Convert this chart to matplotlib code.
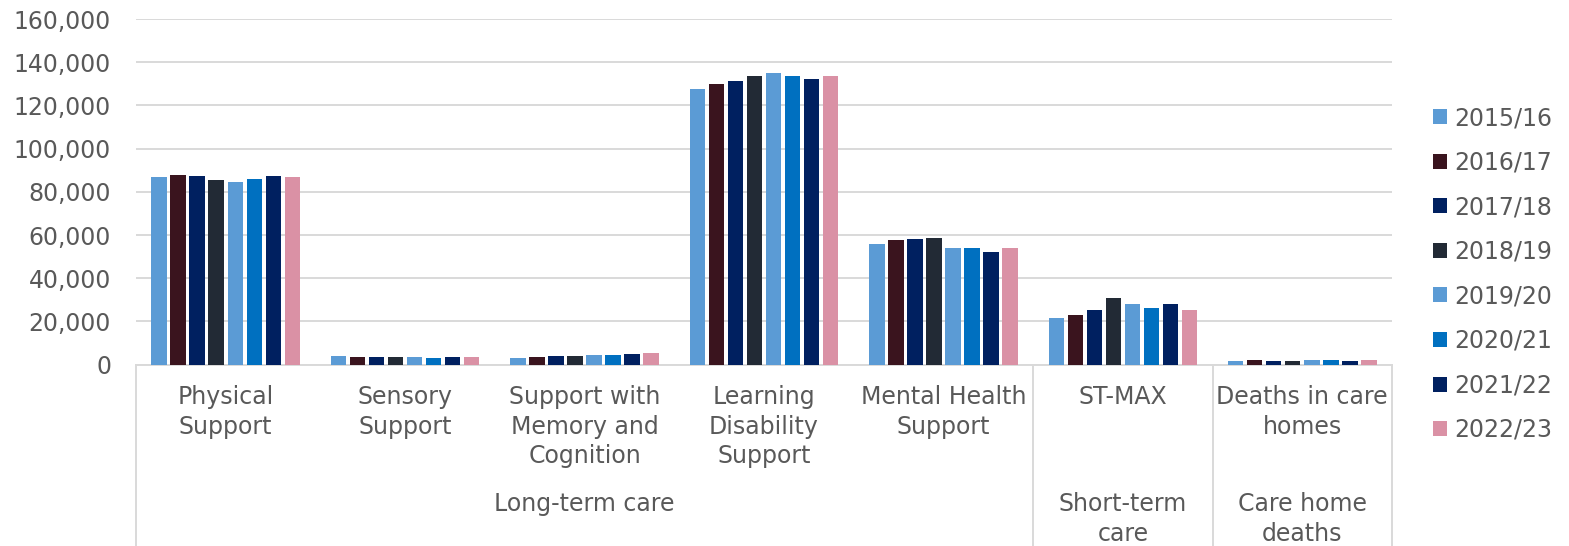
import numpy as np
import matplotlib
matplotlib.use("Agg")
import matplotlib.pyplot as plt
from matplotlib.patches import Patch
from matplotlib.transforms import blended_transform_factory

categories = [
    "Physical\nSupport",
    "Sensory\nSupport",
    "Support with\nMemory and\nCognition",
    "Learning\nDisability\nSupport",
    "Mental Health\nSupport",
    "ST-MAX",
    "Deaths in care\nhomes",
]
groups = ["Long-term care", "Short-term\ncare", "Care home\ndeaths"]
group_spans = [(0, 5), (5, 6), (6, 7)]

years = ["2015/16", "2016/17", "2017/18", "2018/19",
         "2019/20", "2020/21", "2021/22", "2022/23"]
colors = ["#5B9BD5", "#3A141E", "#002060", "#222A35",
          "#5B9BD5", "#0070C0", "#002060", "#DA91A5"]

# one list per year, ordered like categories
v2015 = [86800, 4000, 3200, 127500, 56000, 21500, 1700]
v2016 = [87700, 3600, 3700, 130100, 57500, 22900, 2200]
v2017 = [87300, 3600, 4000, 131500, 58000, 25400, 1800]
v2018 = [85500, 3400, 4200, 133500, 58700, 30800, 1800]
v2019 = [84600, 3400, 4500, 135200, 54000, 28100, 2200]
v2020 = [85900, 3300, 4600, 133500, 53800, 26100, 2300]
v2021 = [87300, 3400, 5100, 132300, 52300, 28300, 1800]
v2022 = [87100, 3400, 5200, 133600, 53800, 25400, 2000]
series = [v2015, v2016, v2017, v2018, v2019, v2020, v2021, v2022]

text_col = "#595959"
grid_col = "#D9D9D9"
fs = 17

plt.rcParams["font.family"] = ["DejaVu Sans"]

fig = plt.figure(figsize=(15.69, 5.46), dpi=100)
W, H = 1569, 546
ax = fig.add_axes([136 / W, 1 - 364.7 / H, (1392 - 136) / W, (364.7 - 19) / H])

x = np.arange(len(categories))
slot = 0.106
bw = 0.086
for i, (vals, c) in enumerate(zip(series, colors)):
    ax.bar(x + (i - 3.5) * slot, vals, width=bw, color=c, zorder=3)

ax.set_xlim(-0.5, len(categories) - 0.5)
ax.set_ylim(0, 160000)
ax.set_yticks(np.arange(0, 160001, 20000))
ax.yaxis.set_major_formatter(matplotlib.ticker.FuncFormatter(lambda v, p: f"{int(v):,}"))
ax.tick_params(axis="y", length=0, pad=18, labelsize=fs, labelcolor=text_col)
ax.set_xticks([])
ax.grid(axis="y", color=grid_col, lw=1.4, zorder=0)
for s in ["left", "right", "top"]:
    ax.spines[s].set_visible(False)
ax.spines["bottom"].set_color(grid_col)
ax.spines["bottom"].set_linewidth(1.4)

# two-level category axis below the plot
tr = blended_transform_factory(ax.transData, fig.transFigure)
for xi, lab in zip(x, categories):
    ax.text(xi, 1 - 385 / H, lab, transform=tr, ha="center", va="top",
            fontsize=fs, color=text_col, linespacing=1.3)
for (a, b), lab in zip(group_spans, groups):
    ax.text((a + b - 1) / 2, 1 - 492 / H, lab, transform=tr, ha="center", va="top",
            fontsize=fs, color=text_col, linespacing=1.3)
for xb in [-0.5, 4.5, 5.5, 6.5]:
    ax.plot([xb, xb], [1 - 364.7 / H, 0], transform=tr, color=grid_col,
            lw=1.4, clip_on=False)

handles = [Patch(facecolor=c) for c in colors]
fig.legend(handles, years, loc="center left", bbox_to_anchor=(1433 / W, 1 - 274 / H),
           frameon=False, fontsize=fs, labelcolor=text_col, handlelength=0.6,
           handleheight=0.6, handletextpad=0.3, labelspacing=0.87,
           borderpad=0, borderaxespad=0)

fig.savefig("out.png", dpi=100)
